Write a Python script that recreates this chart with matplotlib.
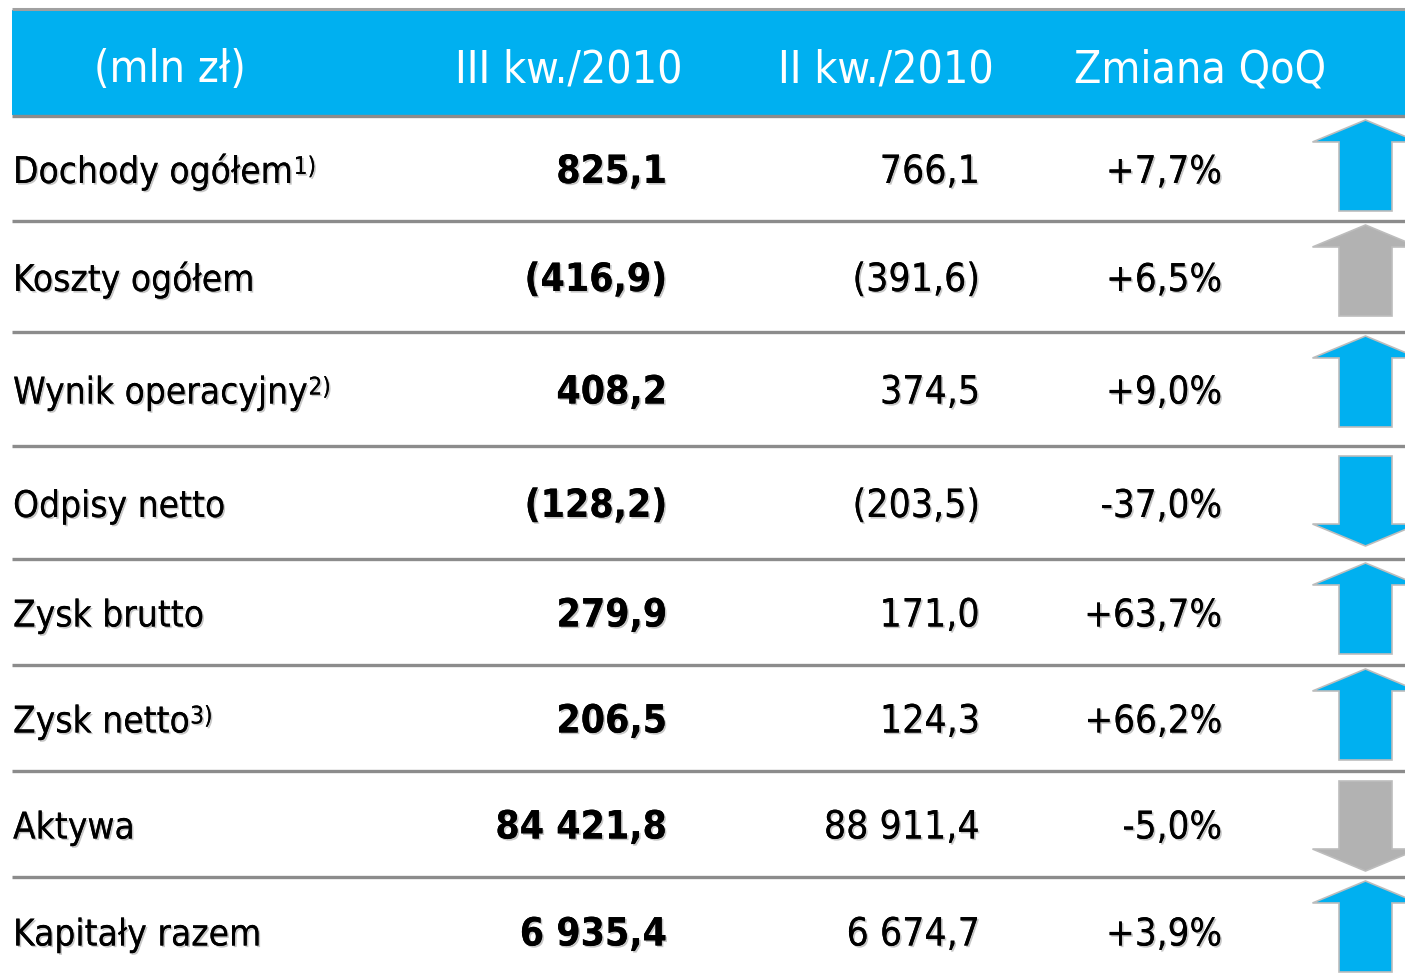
import matplotlib
matplotlib.use("Agg")
import matplotlib.pyplot as plt
import matplotlib.patheffects as pe
from matplotlib.patches import Rectangle, Polygon

# ---------------- data ----------------
headers = ["(mln zł)", "III kw./2010", "II kw./2010", "Zmiana QoQ"]
labels = ["Dochody ogółem", "Koszty ogółem", "Wynik operacyjny", "Odpisy netto",
          "Zysk brutto", "Zysk netto", "Aktywa", "Kapitały razem"]
footnotes = ["1)", "", "2)", "", "", "3)", "", ""]
q3_2010 = ["825,1", "(416,9)", "408,2", "(128,2)", "279,9", "206,5", "84 421,8", "6 935,4"]
q2_2010 = ["766,1", "(391,6)", "374,5", "(203,5)", "171,0", "124,3", "88 911,4", "6 674,7"]
change_qoq = ["+7,7%", "+6,5%", "+9,0%", "-37,0%", "+63,7%", "+66,2%", "-5,0%", "+3,9%"]
direction = ["up", "up", "up", "down", "up", "up", "down", "up"]
favourable = [True, False, True, True, True, True, False, True]

# ---------------- style ----------------
BLUE = "#00B0F0"
GREY_ARROW = "#B2B2B2"
LINE = "#8C8C8C"
W, H = 1405, 978
FONT = dict(family="DejaVu Sans", stretch="condensed")
shadow = [pe.withSimplePatchShadow(offset=(1.2, -1.2), shadow_rgbFace="#000000", alpha=0.22),
          pe.Normal()]

fig = plt.figure(figsize=(W / 100, H / 100), dpi=100)
ax = fig.add_axes([0, 0, 1, 1])
ax.set_xlim(0, W)
ax.set_ylim(H, 0)
ax.axis("off")

# header
ax.add_patch(Rectangle((12, 11), W - 12, 105, facecolor=BLUE, edgecolor="none"))
ax.plot([12, W], [10, 10], color="#A0A0A0", lw=2.2, solid_capstyle="butt")
header_x = [170, 569, 886, 1200]
for hx, ht in zip(header_x, headers):
    ax.text(hx, 82, ht, ha="center", va="baseline", color="white", fontsize=32, **FONT)

row_edges = [117, 222, 333, 447, 560, 666, 772, 878, 984]
for y in row_edges[:-1]:
    ax.plot([12, W], [y, y], color=LINE, lw=2.4, solid_capstyle="butt")

fig.canvas.draw()
renderer = fig.canvas.get_renderer()

fs = 27.5
for i in range(len(labels)):
    top, bot = row_edges[i], row_edges[i + 1]
    yc = (top + bot) / 2 if i < len(labels) - 1 else (top + 986) / 2
    base = yc + 14.5
    t = ax.text(13, base, labels[i], ha="left", va="baseline", color="black",
                fontsize=26.5, path_effects=shadow, **FONT)
    if footnotes[i]:
        bb = t.get_window_extent(renderer)
        xr = bb.x1 + 1
        ax.text(xr, base - 9, footnotes[i], ha="left", va="baseline", color="black",
                fontsize=17.5, path_effects=shadow, **FONT)
    ax.text(667, base, q3_2010[i], ha="right", va="baseline", color="black",
            fontsize=fs + 0.5, fontweight="bold", path_effects=shadow, **FONT)
    ax.text(980, base, q2_2010[i], ha="right", va="baseline", color="black",
            fontsize=fs + 0.5, path_effects=shadow, **FONT)
    ax.text(1222, base, change_qoq[i], ha="right", va="baseline", color="black",
            fontsize=fs, path_effects=shadow, **FONT)

    # arrow
    col = BLUE if favourable[i] else GREY_ARROW
    cx, sw, hw = 1365.5, 26.5, 53
    if direction[i] == "up":
        tip, hb, end = top + 4, top + 26, top + 95
        pts = [(cx, tip), (cx + hw, hb), (cx + sw, hb), (cx + sw, end),
               (cx - sw, end), (cx - sw, hb), (cx - hw, hb)]
    else:
        st, hb, tip = top + 10, top + 78, top + 100
        pts = [(cx - sw, st), (cx + sw, st), (cx + sw, hb), (cx + hw, hb),
               (cx, tip), (cx - hw, hb), (cx - sw, hb)]
    ax.add_patch(Polygon(pts, closed=True, facecolor=col, edgecolor="#BDBDBD", lw=1.2,
                         joinstyle="miter"))

fig.savefig("out.png", dpi=100)
